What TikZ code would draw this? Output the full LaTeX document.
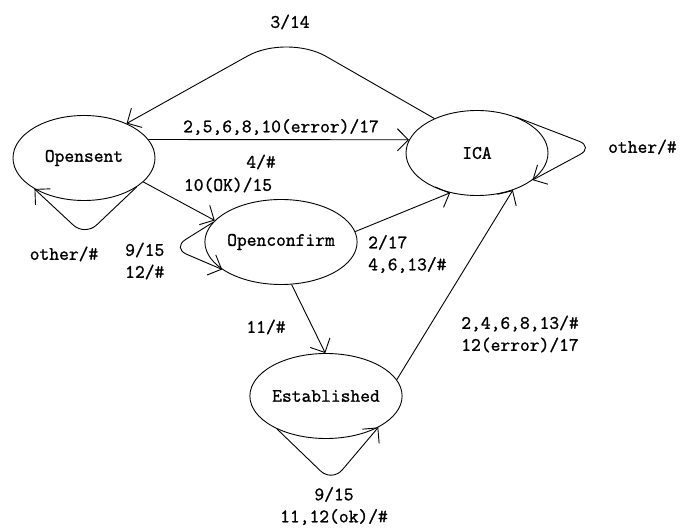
\documentclass[tikz,border=0pt]{standalone}
\usepackage{fontspec}
\newfontfamily\diagfont{Latin Modern Mono}[FakeBold=1.2]
\usetikzlibrary{shapes.geometric,arrows.meta}
\begin{document}
\begin{tikzpicture}[x=1pt,y=-1pt,
  state/.style={ellipse,draw,line width=0.9pt,minimum width=142pt,minimum height=85pt,inner sep=0pt,font=\diagfont\fontsize{19}{19}\selectfont},
  lbl/.style={font=\diagfont\fontsize{19}{22}\selectfont,inner sep=0pt,align=center},
  lbll/.style={lbl,align=left,anchor=west},
  arr/.style={line width=0.9pt,-{Straight Barb[length=11pt,width=22pt]}},
  loopv/.style={arr,rounded corners=16pt}]
\useasboundingbox (0,0) rectangle (680,529);
\fill[white] (0,0) rectangle (680,529);

\node[state] (os)  at (84,158)  {Opensent};
\node[state] (ica) at (477,153) {ICA};
\node[state] (oc)  at (281,242) {Openconfirm};
\node[state] (est) at (326,396) {Established};

% edges
\draw[arr,rounded corners=45pt] (ica.141) -- (287,34) -- (os.39);
\draw[arr] (os.16) -- (ica.169);
\draw[arr] (os.-22) -- (oc.162);
\draw[arr] (oc.8) -- (ica.236);
\draw[arr] (oc.-76) -- (est.91);
\draw[arr] (est.13) -- (ica.-46);

% self loops
\coordinate (osl) at (85,236);
\coordinate (ocl) at (172,248);
\coordinate (ical) at (594,147);
\coordinate (estl) at (332,482);
\draw[loopv] (os.-29) -- (osl) -- (os.212);
\draw[loopv] (oc.164) -- (ocl) -- (oc.205);
\draw[loopv] (ica.43) -- (ical) -- (ica.-26);
\draw[loopv] (est.214) -- (estl) -- (est.-31);

% labels
\node[lbl] (l1) at (290,22) {3/14};
\node[lbl] (l2) at (281,127) {2,5,6,8,10(error)/17};
\node[lbl] (l3) at (261,162) {4/\#};
\node[lbl] (l4) at (228,185) {10(OK)/15};
\node[lbl] (l5) at (64,254) {other/\#};
\node[lbll] (l6) at (125,261) {9/15\\12/\#};
\node[lbll] (l7) at (368,254) {2/17\\4,6,13/\#};
\node[lbl] (l8) at (266,327) {11/\#};
\node[lbl] (l9) at (520,334) {2,4,6,8,13/\#\\12(error)/17};
\node[lbll] (l10) at (608,147) {other/\#};
\node[lbl] (l11) at (334,506) {9/15\\11,12(ok)/\#};
\end{tikzpicture}
\end{document}
